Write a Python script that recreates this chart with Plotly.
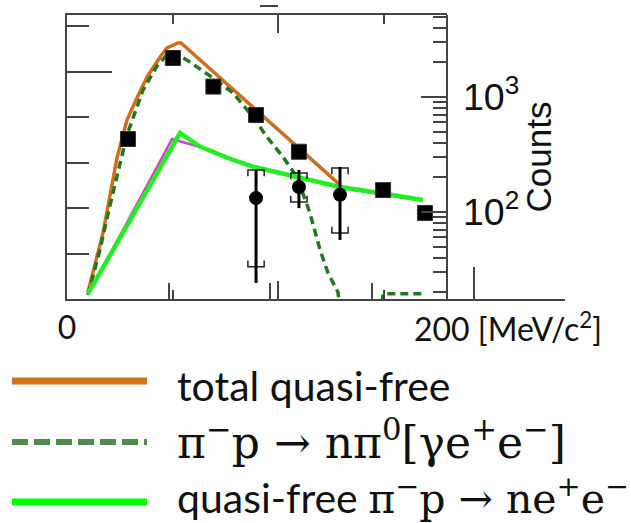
import plotly.graph_objects as go

W, H = 631, 523
ML, MR, MT, MB = 67, 66, 15, 224
PW, PH = W - ML - MR, H - MT - MB  # plot area in px

# model curves: invariant mass (MeV/c^2) vs counts
total_m = [10.3, 17.7, 24.6, 29.5, 34.4, 39.4, 45.8, 49.2, 54.6, 56.1, 134.3]
total_c = [20.1, 65.6, 295, 631, 980, 1493, 2228, 2667, 2950, 2950, 172]

pi0_m = [10.3, 16.2, 21.2, 26.1, 29.5, 37.4, 44.3, 49.2, 52.6, 58.9, 71.8, 81.7,
         91.5, 98.4, 106.3, 113.2, 119.5, 124.5, 128.4, 133.3, 145.1, 155.5, 176.1]
pi0_c = [19.0, 46.8, 115, 267, 468, 1150, 1862, 2318, 2415, 2100, 1463, 1084,
         670, 449, 300, 201, 98, 46.8, 29.5, 20.1, 0.5, 19.4, 19.4]

qf_m = [10.3, 55.6, 65.4, 81.7, 91.5, 113.2, 134.3, 154.0, 175.1]
qf_c = [19.4, 486, 370, 283, 248, 201, 165, 146, 127]

qf_alt_m = [10.3, 51.7, 65.4, 91.5, 113.6, 134.3, 175.1]
qf_alt_c = [19.0, 431, 367, 246, 198, 162, 125]

# measured points
sq_m = [30.0, 52.1, 72.0, 93.0, 114.1, 155.5, 176.1]
sq_c = [431, 2183, 1231, 697, 334, 155, 98]

ci_m = [93.0, 114.1, 134.3]
ci_c = [132, 165, 141]
ci_stat_hi = [232, 232, 246]
ci_stat_lo = [24.1, 108, 57.1]
ci_sys_hi = [232, 218, 241]
ci_sys_lo = [33.3, 122, 65.6]

AX = "#444444"
ORANGE = "#CF6E1E"
DGREEN = "#1F7A1F"
LIME = "#22EE22"
MAGENTA = "#CC44CC"


def px_to_paper(x, y):
    return (x - ML) / PW, (MT + PH - y) / PH


fig = go.Figure()

# empty traces so the frame axes (x/y and x2/y) are rendered
fig.add_trace(go.Scatter(x=[None], y=[None], xaxis="x", yaxis="y", showlegend=False,
                         hoverinfo="skip"))
fig.add_trace(go.Scatter(x=[None], y=[None], xaxis="x2", yaxis="y", showlegend=False,
                         hoverinfo="skip"))

fig.add_trace(go.Scatter(x=total_m, y=total_c, mode="lines", yaxis="y2",
                         line=dict(color=ORANGE, width=3.5), showlegend=False))
fig.add_trace(go.Scatter(x=pi0_m, y=pi0_c, mode="lines", yaxis="y2",
                         line=dict(color=DGREEN, width=3.5, dash="8px,5px"), showlegend=False))
fig.add_trace(go.Scatter(x=qf_alt_m, y=qf_alt_c, mode="lines", yaxis="y2",
                         line=dict(color=MAGENTA, width=2.5), showlegend=False))
fig.add_trace(go.Scatter(x=qf_m, y=qf_c, mode="lines", yaxis="y2",
                         line=dict(color=LIME, width=4.5), showlegend=False))

# systematic brackets around the circle points
hw = 4.0
tk = 10 ** 0.055
bx, by = [], []
for m, lo, hi in zip(ci_m, ci_sys_lo, ci_sys_hi):
    bx += [m - hw, m - hw, m + hw, m + hw, None, m - hw, m - hw, m + hw, m + hw, None]
    by += [hi / tk, hi, hi, hi / tk, None, lo * tk, lo, lo, lo * tk, None]
fig.add_trace(go.Scatter(x=bx, y=by, mode="lines", yaxis="y2",
                         line=dict(color="#222222", width=1.5), showlegend=False))

fig.add_trace(go.Scatter(
    x=ci_m, y=ci_c, mode="markers", yaxis="y2", showlegend=False,
    marker=dict(symbol="circle", size=14, color="black"),
    error_y=dict(type="data", symmetric=False,
                 array=[h - c for h, c in zip(ci_stat_hi, ci_c)],
                 arrayminus=[c - l for c, l in zip(ci_c, ci_stat_lo)],
                 thickness=3, width=0, color="black")))

fig.add_trace(go.Scatter(x=sq_m, y=sq_c, mode="markers", yaxis="y2", showlegend=False,
                         marker=dict(symbol="square", size=15, color="black",
                                     line=dict(color="#333333", width=1))))

frame_w = 447 - ML

fig.update_layout(
    width=W, height=H, margin=dict(l=ML, r=MR, t=MT, b=MB),
    paper_bgcolor="white", plot_bgcolor="rgba(0,0,0,0)", showlegend=False,
    xaxis=dict(domain=[0, 1], range=[0, 245], anchor="y",
               showline=True, linecolor=AX, linewidth=2, showgrid=False, zeroline=False,
               ticks="inside", tickvals=[0, 200], ticktext=["0", ""], ticklen=32,
               tickwidth=2, tickcolor=AX,
               minor=dict(tickvals=[50, 100, 150], ticks="inside", ticklen=16,
                          tickwidth=2, tickcolor=AX, showgrid=False),
               tickfont=dict(family="Lato", size=32, color="#111111")),
    xaxis2=dict(domain=[0, frame_w / PW], range=[0, frame_w / 105.5], anchor="y",
                side="top", showline=True, linecolor=AX, linewidth=2, mirror="ticks",
                showgrid=False, zeroline=False, showticklabels=False,
                ticks="inside", tickvals=[2], ticklen=18, tickwidth=2, tickcolor=AX,
                minor=dict(tickvals=[1, 3], ticks="inside", ticklen=9, tickwidth=2,
                           tickcolor=AX, showgrid=False)),
    yaxis=dict(domain=[0, 1], range=[0, PH / 45.5], anchor="x",
               showline=True, linecolor=AX, linewidth=2, showgrid=False, zeroline=False,
               showticklabels=False, ticks="inside", tick0=0, dtick=5, ticklen=45,
               tickwidth=2, tickcolor=AX,
               minor=dict(dtick=1, ticks="inside", ticklen=22, tickwidth=2,
                          tickcolor=AX, showgrid=False)),
    yaxis2=dict(type="log", range=[1.243, 3.713], overlaying="y", side="right",
                anchor="free", position=frame_w / PW,
                showline=True, linecolor=AX, linewidth=2, showgrid=False, zeroline=False,
                ticks="inside", dtick=1, ticklen=25, tickwidth=2, tickcolor=AX,
                minor=dict(ticks="inside", ticklen=13, tickwidth=2, tickcolor=AX,
                           showgrid=False),
                exponentformat="power", ticklabelstandoff=9,
                tickfont=dict(family="Liberation Sans", size=30, color="#111111"),
                title=dict(text="Counts", standoff=0,
                           font=dict(family="Liberation Sans", size=35, color="#111111"))),
)

fig.add_annotation(text="200 [MeV/c<sup>2</sup>]", xref="x", yref="paper", x=200, y=0,
                   xanchor="left", yanchor="top", xshift=-62, yshift=-5, showarrow=False,
                   font=dict(family="Lato", size=32, color="#111111"))

# small bar above the frame
x0, y0 = px_to_paper(260, 6)
x1, _ = px_to_paper(278, 6)
fig.add_shape(type="line", xref="paper", yref="paper", x0=x0, x1=x1, y0=y0, y1=y0,
              line=dict(color=AX, width=2))

# legend
SERIF = "font-family:'DejaVu Serif';font-size:44px"
SERIF_S = "font-family:'DejaVu Serif';font-size:41px"
SANS = "font-family:Lato;font-size:41px"
legend_items = [
    (381, 385, "#D27419", "solid", 7, f"<span style=\"{SANS}\">total quasi-free</span>"),
    (442, 440, "#4E8B4E", "16px,6px", 6,
     f"<span style=\"{SERIF}\">π<sup>−</sup>p → nπ<sup>0</sup>[γe<sup>+</sup>e<sup>−</sup>]</span>"),
    (502, 496, "#00FF00", "solid", 7,
     f"<span style=\"{SANS}\">quasi-free </span>"
     f"<span style=\"{SERIF_S}\">π<sup>−</sup>p → ne<sup>+</sup>e<sup>−</sup></span>"),
]
for ypx, tpx, col, dash, lw, label in legend_items:
    lx0, ly = px_to_paper(12, ypx)
    lx1, _ = px_to_paper(147, ypx)
    fig.add_shape(type="line", xref="paper", yref="paper", x0=lx0, x1=lx1, y0=ly, y1=ly,
                  line=dict(color=col, width=lw, dash=dash))
    tx, ty = px_to_paper(175, tpx)
    fig.add_annotation(text=label, xref="paper", yref="paper", x=tx, y=ty,
                       xanchor="left", yanchor="middle", showarrow=False,
                       font=dict(family="Lato", size=41, color="#111111"))

fig.write_html("out.html")
